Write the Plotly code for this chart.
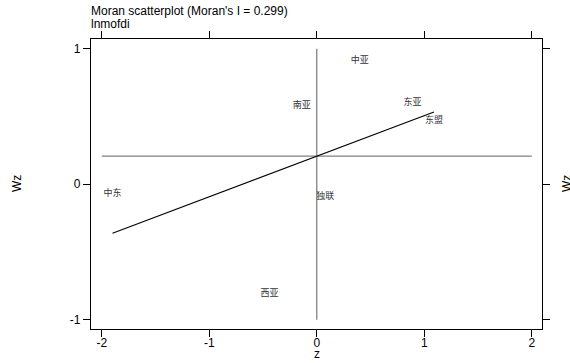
import plotly.graph_objects as go

regions = ["中东", "西亚", "南亚", "独联", "中亚", "东亚", "东盟"]
z_vals = [-1.90, -0.44, -0.14, 0.08, 0.40, 0.89, 1.09]
wz_vals = [-0.07, -0.81, 0.576, -0.09, 0.915, 0.60, 0.47]
morans_i = 0.299
mean_wz = 0.207
mean_z = 0.0
x_ticks = [-2, -1, 0, 1, 2]
x_tick_text = ["-2", "-1", "0", "1", "2"]
y_ticks = [-1, 0, 1]
y_tick_text = ["-1", "0", "1"]
title_line1 = "Moran scatterplot (Moran's I = 0.299)"
title_line2 = "lnmofdi"

fig = go.Figure()

# quadrant lines
fig.add_trace(go.Scatter(x=[x_ticks[0], x_ticks[-1]], y=[mean_wz, mean_wz], mode="lines",
                         line=dict(color="#808080", width=1.3), hoverinfo="skip", showlegend=False))
fig.add_trace(go.Scatter(x=[mean_z, mean_z], y=[y_ticks[0], y_ticks[-1]], mode="lines",
                         line=dict(color="#808080", width=1.3), hoverinfo="skip", showlegend=False))

# regression line
zmin, zmax = min(z_vals), max(z_vals)
fig.add_trace(go.Scatter(x=[zmin, zmax],
                         y=[mean_wz + morans_i * (zmin - mean_z), mean_wz + morans_i * (zmax - mean_z)],
                         mode="lines", line=dict(color="black", width=1.1),
                         hoverinfo="skip", showlegend=False))

# labels
fig.add_trace(go.Scatter(x=z_vals, y=wz_vals, mode="text", text=regions,
                         textposition="middle center",
                         textfont=dict(family="Noto Sans CJK SC", size=9, color="#333333"),
                         showlegend=False))

axis_font = dict(family="Liberation Sans, Arial", size=12, color="black")

fig.update_xaxes(range=[-2.1, 2.095], tickvals=x_ticks, ticktext=x_tick_text,
                 ticks="outside", ticklen=7, automargin=False, ticklabelstandoff=-5,
                 tickcolor="black", showline=True, linecolor="black", linewidth=1.3,
                 mirror="ticks", showgrid=False, zeroline=False, tickfont=axis_font)
fig.update_yaxes(range=[-1.068, 1.072], tickvals=y_ticks, ticktext=y_tick_text,
                 ticks="outside", ticklen=7, automargin=False,
                 tickcolor="black", showline=True, linecolor="black", linewidth=1.3,
                 mirror="ticks", showgrid=False, zeroline=False, tickfont=axis_font)

def py(p):
    return (329 - p) / 290

def px(p):
    return (p - 91) / 451

fig.add_annotation(text=title_line1, xref="paper", yref="paper", x=px(89), y=py(11.5),
                   xanchor="left", yanchor="middle", align="left", showarrow=False,
                   font=axis_font)
fig.add_annotation(text=title_line2, xref="paper", yref="paper", x=px(89), y=py(23.5),
                   xanchor="left", yanchor="middle", align="left", showarrow=False,
                   font=axis_font)
fig.add_annotation(text="z", xref="paper", yref="paper", x=px(317), y=py(354),
                   xanchor="center", yanchor="middle", showarrow=False, font=axis_font)
fig.add_annotation(text="Wz", xref="paper", yref="paper", x=px(17), y=py(184),
                   xanchor="center", yanchor="middle", textangle=-90, showarrow=False, font=axis_font)
fig.add_annotation(text="Wz", xref="paper", yref="paper", x=px(567), y=py(184),
                   xanchor="center", yanchor="middle", textangle=-90, showarrow=False, font=axis_font)

fig.update_layout(width=570, height=363, margin=dict(l=91, r=28, t=39, b=34),
                  plot_bgcolor="white", paper_bgcolor="white", showlegend=False)

fig.write_html("out.html")
